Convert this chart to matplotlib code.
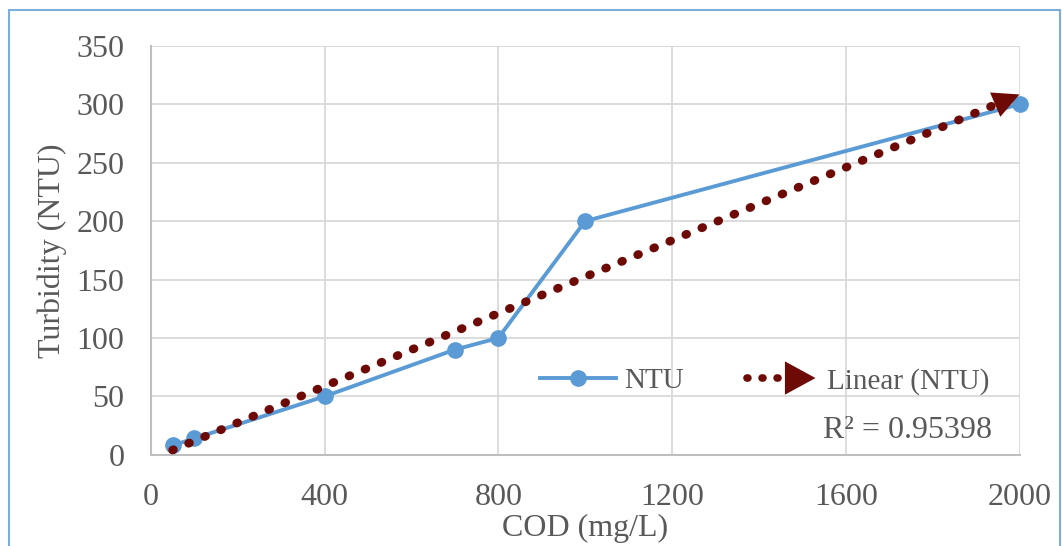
import matplotlib
matplotlib.use("Agg")
import matplotlib.pyplot as plt
from matplotlib.lines import Line2D
from matplotlib.patches import Rectangle, FancyArrowPatch
import numpy as np

# data
cod = np.array([50, 100, 400, 700, 800, 1000, 2000])
ntu = np.array([8, 14, 50, 90, 100, 200, 300])
x_ticks = [0, 400, 800, 1200, 1600, 2000]
y_ticks = [0, 50, 100, 150, 200, 250, 300, 350]
r2_label = "R² = 0.95398"

blue = "#5B9BD5"
dark_red = "#6E0A05"
txt = "#595959"
grid_c = "#D9D9D9"

plt.rcParams["font.family"] = ["Liberation Serif", "DejaVu Serif"]
fs = 23

fig = plt.figure(figsize=(10.62, 5.46), dpi=100)
ax = fig.add_axes([0.142, 0.167, 0.818, 0.749])

# data series
ax.plot(cod, ntu, "-", color=blue, lw=2.8, marker="o", markersize=11,
        zorder=4, clip_on=False)

# linear trendline
slope, icpt = np.polyfit(cod, ntu, 1)
tx = np.array([cod.min(), cod.max()])
ty = slope * tx + icpt
ax.plot(tx, ty, color=dark_red, lw=6.2, linestyle=(0, (0.12, 1.9)),
        dash_capstyle="round", zorder=5, clip_on=False)
ax.annotate("", xy=(tx[1], ty[1]), xytext=(tx[1] - 60, ty[1] - 60 * slope),
            arrowprops=dict(arrowstyle="-|>,head_length=1.9,head_width=0.95",
                            color=dark_red, lw=0, shrinkA=0, shrinkB=0),
            zorder=6)

ax.set_xlim(0, 2000)
ax.set_ylim(0, 350)
ax.set_xticks(x_ticks)
ax.set_yticks(y_ticks)
ax.tick_params(length=0, labelsize=fs, colors=txt)
ax.tick_params(axis="y", pad=19)
ax.tick_params(axis="x", pad=20)
ax.grid(True, color=grid_c, lw=1.3)
ax.set_axisbelow(True)
for s in ["top", "right"]:
    ax.spines[s].set_visible(False)
for s in ["left", "bottom"]:
    ax.spines[s].set_color("#BFBFBF")
    ax.spines[s].set_linewidth(1.5)

ax.set_xlabel("COD (mg/L)", fontsize=fs, color=txt, labelpad=2)
ax.set_ylabel("Turbidity (NTU)", fontsize=fs, color=txt, labelpad=7)

ax.text(0.968, 0.06, r2_label, transform=ax.transAxes, ha="right",
        va="center", fontsize=fs, color=txt)


# legend handler: dotted line with arrow head
class TrendHandler:
    def legend_artist(self, legend, orig, fontsize, handlebox):
        x0, y0 = handlebox.xdescent, handlebox.ydescent
        w, h = handlebox.width, handlebox.height
        yc = y0 + h / 2
        ln = Line2D([x0 + 3, x0 + w * 0.6], [yc, yc], color=dark_red, lw=5.5,
                    linestyle=(0, (0.12, 1.85)), dash_capstyle="round")
        ar = FancyArrowPatch((x0 + w * 0.6, yc), (x0 + w, yc),
                             arrowstyle="-|>,head_length=1.1,head_width=0.6",
                             color=dark_red, lw=0, mutation_scale=20)
        handlebox.add_artist(ln)
        handlebox.add_artist(ar)
        return ln


lfs = 21
ntu_h = Line2D([], [], color=blue, lw=2.8, marker="o", markersize=11)
trend_h = Line2D([], [])
leg = fig.legend([ntu_h, trend_h], ["NTU", "Linear (NTU)"], ncol=2,
                 loc="center", bbox_to_anchor=(0.72, 0.302), frameon=False,
                 fontsize=lfs, handlelength=2.6, columnspacing=2.0,
                 handletextpad=0.3, handler_map={trend_h: TrendHandler()})
for t in leg.get_texts():
    t.set_color(txt)

# chart border
fig.patches.append(Rectangle((0.0085, -0.02), 0.99, 1.002, transform=fig.transFigure,
                             fill=False, edgecolor="#7DAEDB", lw=1.5))

fig.savefig("out.png", dpi=100, facecolor="white")
